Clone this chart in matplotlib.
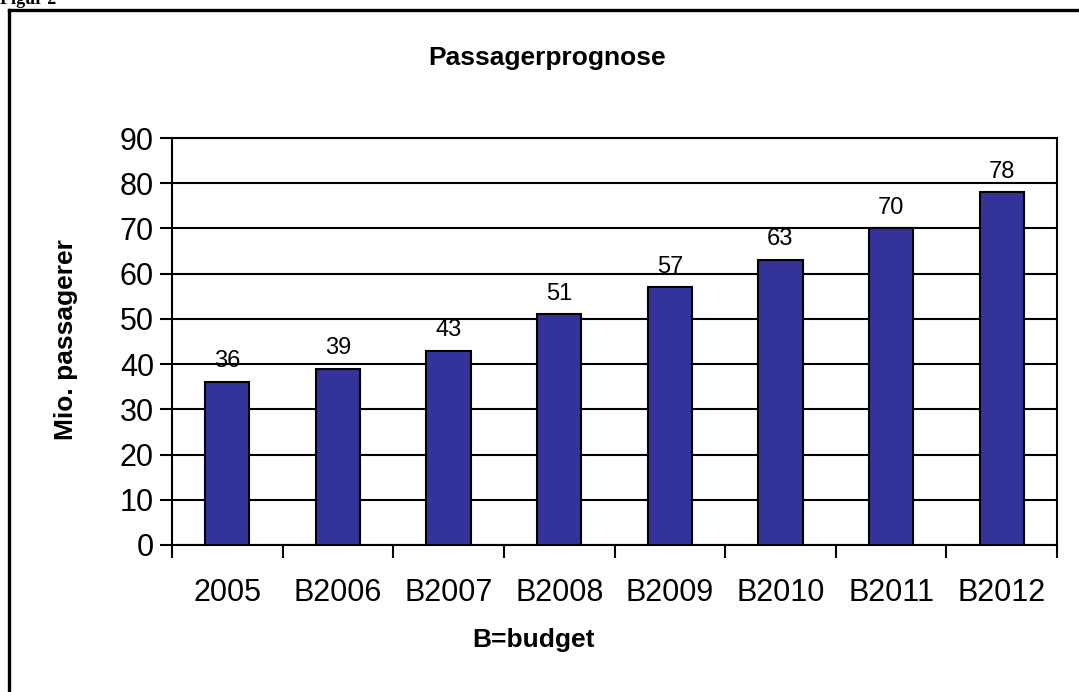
import matplotlib
matplotlib.use("Agg")
import matplotlib.pyplot as plt
from matplotlib.lines import Line2D

categories = ["2005", "B2006", "B2007", "B2008", "B2009", "B2010", "B2011", "B2012"]
values = [36, 39, 43, 51, 57, 63, 70, 78]
yticks = list(range(0, 91, 10))

plt.rcParams['font.family'] = ['Liberation Sans', 'DejaVu Sans']

fig = plt.figure(figsize=(10.79, 6.92), dpi=100)
W, H = 1079, 692
ax = fig.add_axes([172 / W, 1 - 545 / H, (1057 - 172) / W, (545 - 138) / H])

x = list(range(len(categories)))
ax.bar(x, values, width=0.4, color="#333399", edgecolor="black", linewidth=1.5, zorder=3)
for xi, v in zip(x, values):
    ax.annotate(str(v), (xi, v), xytext=(0, 7), textcoords="offset points",
                ha="center", va="bottom", fontsize=17)

ax.set_xlim(-0.5, len(categories) - 0.5)
ax.set_ylim(0, 90)
ax.set_yticks(yticks)
ax.set_yticklabels([str(t) for t in yticks], fontsize=22)
ax.set_xticks(x)
ax.set_xticklabels(categories, fontsize=22)
ax.set_xticks([i - 0.5 for i in range(len(categories) + 1)], minor=True)
ax.tick_params(axis="x", which="major", length=0, pad=24)
ax.tick_params(axis="x", which="minor", length=9, width=1.5, direction="out")
ax.tick_params(axis="y", which="major", length=9, width=1.5, direction="out", pad=4)
ax.yaxis.grid(True, color="black", linewidth=1.5, zorder=0)
ax.set_axisbelow(True)
for s in ax.spines.values():
    s.set_linewidth(1.5)
    s.set_color("black")

fig.text(547 / W, 1 - 58 / H, "Passagerprognose", ha="center", va="center",
         fontsize=19, fontweight="bold")
fig.text(66 / W, 1 - 340 / H, "Mio. passagerer", ha="center", va="center",
         fontsize=19, fontweight="bold", rotation=90)
fig.text(533 / W, 1 - 640 / H, "B=budget", ha="center", va="center",
         fontsize=19, fontweight="bold")
fig.text(0 / W, 1 - 0 / H, "Figur 2", ha="left", va="center",
         fontsize=13, fontweight="bold", family=["Liberation Serif", "DejaVu Serif"])

fig.add_artist(Line2D([9 / W, 9 / W], [0, 1 - 10 / H], transform=fig.transFigure,
                      color="black", linewidth=2.4))
fig.add_artist(Line2D([9 / W, 1], [1 - 10 / H, 1 - 10 / H], transform=fig.transFigure,
                      color="black", linewidth=2.4))

fig.savefig("out.png", dpi=100)
